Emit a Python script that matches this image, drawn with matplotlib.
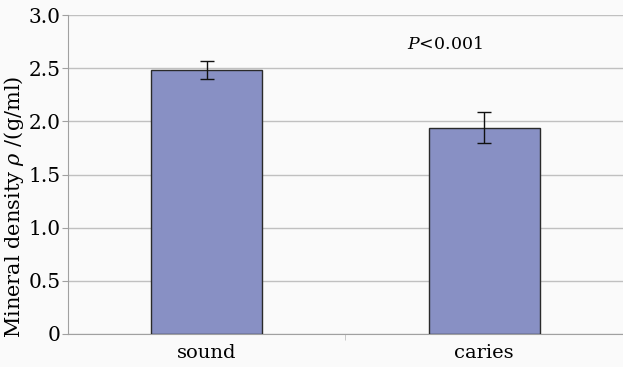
import matplotlib.pyplot as plt

# data
groups = ['sound', 'caries']
density = [2.48, 1.94]
density_err = [0.085, 0.145]
yticks = [0, 0.5, 1.0, 1.5, 2.0, 2.5, 3.0]
yticklabels = ['0', '0.5', '1.0', '1.5', '2.0', '2.5', '3.0']

plt.rcParams['font.family'] = ['DejaVu Serif']
plt.rcParams['mathtext.fontset'] = 'dejavuserif'

fig = plt.figure(figsize=(6.23, 3.67), dpi=100)
fig.patch.set_facecolor('#fafafa')
ax = fig.add_axes([0.109, 0.090, 0.891, 0.869])
ax.set_facecolor('#fafafa')

x = list(range(len(groups)))
ax.bar(x, density, width=0.4, color='#8890c4', edgecolor='#2a2a2a', linewidth=1.0, zorder=3)
ax.errorbar(x, density, yerr=density_err, fmt='none', ecolor='#111111',
            elinewidth=1.0, capsize=5, capthick=1.0, zorder=4)

ax.set_xlim(-0.5, 1.5)
ax.set_ylim(0, 3.0)
ax.set_yticks(yticks)
ax.set_yticklabels(yticklabels, fontsize=14.5)
ax.yaxis.grid(True, color='#c0c0c0', linewidth=1.0, zorder=0)

ax.set_xticks(x)
ax.set_xticklabels(groups, fontsize=14)
ax.tick_params(axis='x', length=0, pad=7)
ax.set_xticks([0.5], minor=True)
ax.tick_params(axis='x', which='minor', length=4, color='#c0c0c0')
ax.tick_params(axis='y', length=4, color='#a0a0a0', pad=1)

for side in ['top', 'right']:
    ax.spines[side].set_visible(False)
ax.spines['left'].set_color('#a0a0a0')
ax.spines['bottom'].set_color('#a0a0a0')

ax.set_ylabel(r'Mineral density $\rho$ /(g/ml)', fontsize=15)
ax.yaxis.set_label_coords(-0.076, 0.40)
ax.text(0.72, 2.72, r'$P$<0.001', fontsize=12.5, ha='left', va='center')

plt.savefig('out.png', dpi=100, facecolor=fig.get_facecolor())
